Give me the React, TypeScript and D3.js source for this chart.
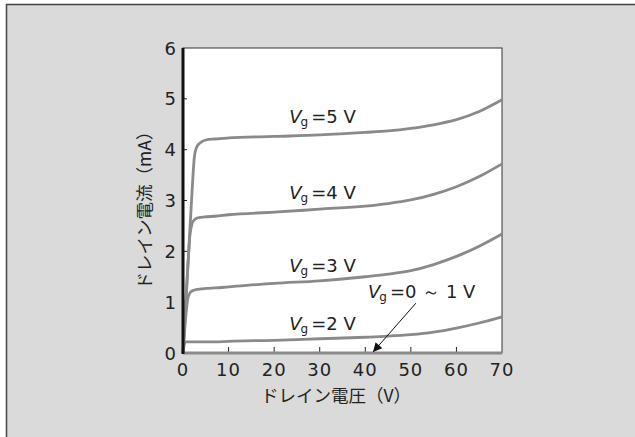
import React, { useEffect, useRef } from "react"
import * as d3 from "d3"

// drain voltage samples (V) and drain current (mA) per gate voltage
const vd = [0, 0.5, 1, 1.5, 2, 2.5, 3, 4, 5, 7, 10, 20, 30, 40, 45, 50, 55, 60, 65, 70]
const id5 = [0, 0.8, 1.6, 2.4, 3.2, 3.86, 4.05, 4.15, 4.19, 4.21, 4.23, 4.26, 4.29, 4.34, 4.37, 4.42, 4.49, 4.59, 4.75, 4.98]
const id4 = [0, 0.8, 1.6, 2.3, 2.55, 2.62, 2.65, 2.67, 2.68, 2.69, 2.72, 2.77, 2.83, 2.89, 2.94, 3.01, 3.12, 3.27, 3.47, 3.72]
const id3 = [0, 0.6, 1.04, 1.18, 1.22, 1.24, 1.25, 1.26, 1.27, 1.28, 1.3, 1.37, 1.42, 1.5, 1.55, 1.62, 1.74, 1.9, 2.1, 2.34]
const id2 = [0, 0.22, 0.22, 0.22, 0.22, 0.22, 0.22, 0.22, 0.22, 0.22, 0.23, 0.25, 0.28, 0.31, 0.33, 0.36, 0.41, 0.49, 0.59, 0.71]
const id01 = [0, 0, 0, 0, 0, 0, 0, 0, 0, 0, 0, 0, 0, 0, 0, 0, 0, 0, 0, 0]
const series = [id5, id4, id3, id2, id01]

const xTicks = [0, 10, 20, 30, 40, 50, 60, 70]
const yTicks = [0, 1, 2, 3, 4, 5, 6]

// label text and where it sits (data units)
const labels = [
  { vg: "5", x: 23.3, y: 4.53 },
  { vg: "4", x: 23.3, y: 3.03 },
  { vg: "3", x: 23.3, y: 1.59 },
  { vg: "2", x: 23.3, y: 0.46 },
  { vg: "0 ～ 1", x: 40.6, y: 1.08 },
]
const arrowFrom = [51.1, 0.98]
const arrowTo = [41.7, 0.0]

const JP = "'Noto Sans CJK JP', 'Noto Sans', sans-serif"
const NUM = "'DejaVu Sans', 'Noto Sans', sans-serif"

export default function App() {
  const ref = useRef<SVGSVGElement>(null)

  useEffect(() => {
    const svg = d3.select(ref.current)
    svg.selectAll("*").remove()

    const x = d3.scaleLinear().domain([0, 70]).range([183, 502])
    const y = d3.scaleLinear().domain([0, 6]).range([353, 48])

    // background panel
    svg.append("rect").attr("width", 635).attr("height", 437).attr("fill", "#ffffff")
    svg.append("rect")
      .attr("x", 6.5).attr("y", 4.5)
      .attr("width", 640).attr("height", 440)
      .attr("fill", "#dadada")
      .attr("stroke", "#444")
      .attr("stroke-width", 1.5)

    // plot area
    svg.append("rect")
      .attr("x", x(0)).attr("y", y(6))
      .attr("width", x(70) - x(0)).attr("height", y(0) - y(6))
      .attr("fill", "#fff")
      .attr("stroke", "#333")
      .attr("stroke-width", 1)

    // inward ticks
    svg.append("g")
      .selectAll("line")
      .data(xTicks.slice(1, -1))
      .enter()
      .append("line")
      .attr("x1", d => x(d)).attr("x2", d => x(d))
      .attr("y1", y(0)).attr("y2", y(0) - 6)
      .attr("stroke", "#222")
      .attr("stroke-width", 1)
    svg.append("g")
      .selectAll("line")
      .data(yTicks.slice(1, -1))
      .enter()
      .append("line")
      .attr("x1", x(0)).attr("x2", x(0) + 4)
      .attr("y1", d => y(d)).attr("y2", d => y(d))
      .attr("stroke", "#222")
      .attr("stroke-width", 1)

    // curves
    const line = d3.line<number>()
      .x((d, i) => x(vd[i]))
      .y(d => y(d))
      .curve(d3.curveMonotoneX)
    svg.append("g")
      .selectAll("path")
      .data(series)
      .enter()
      .append("path")
      .attr("d", d => line(d))
      .attr("fill", "none")
      .attr("stroke", "#8a8a8a")
      .attr("stroke-width", 2.8)
      .attr("stroke-linejoin", "round")

    // thick left axis
    svg.append("line")
      .attr("x1", x(0)).attr("x2", x(0))
      .attr("y1", y(6)).attr("y2", y(0) + 1)
      .attr("stroke", "#111")
      .attr("stroke-width", 3)

    // tick labels
    svg.append("g")
      .selectAll("text")
      .data(xTicks)
      .enter()
      .append("text")
      .attr("x", d => x(d))
      .attr("y", 376)
      .attr("text-anchor", "middle")
      .attr("font-family", NUM)
      .attr("font-size", 18)
      .attr("letter-spacing", 1)
      .attr("fill", "#222")
      .text(d => d)
    svg.append("g")
      .selectAll("text")
      .data(yTicks)
      .enter()
      .append("text")
      .attr("x", 176)
      .attr("y", d => y(d) + 6.5)
      .attr("text-anchor", "end")
      .attr("font-family", NUM)
      .attr("font-size", 18)
      .attr("fill", "#222")
      .text(d => d)

    // axis titles
    svg.append("text")
      .attr("x", 336).attr("y", 402)
      .attr("text-anchor", "middle")
      .attr("font-family", JP)
      .attr("font-size", 17.5)
      .attr("fill", "#222")
      .text("ドレイン電圧（V）")
    svg.append("text")
      .attr("transform", "translate(151,206) rotate(-90)")
      .attr("text-anchor", "middle")
      .attr("font-family", JP)
      .attr("font-size", 17.5)
      .attr("fill", "#222")
      .text("ドレイン電流（mA）")

    // Vg labels
    labels.forEach(l => {
      const t = svg.append("text")
        .attr("x", x(l.x)).attr("y", y(l.y))
        .attr("font-family", NUM)
        .attr("font-size", 18)
        .attr("fill", "#222")
      t.append("tspan").attr("font-style", "italic").text("V")
      t.append("tspan").attr("font-size", 12).attr("dx", -1).attr("dy", 3).text("g")
      t.append("tspan").attr("dx", 3).attr("dy", -3).text("=" + l.vg + " V")
    })

    // arrow
    svg.append("defs").append("marker")
      .attr("id", "arrowhead")
      .attr("viewBox", "0 0 10 10")
      .attr("refX", 10).attr("refY", 5)
      .attr("markerWidth", 12).attr("markerHeight", 9)
      .attr("markerUnits", "userSpaceOnUse")
      .attr("orient", "auto")
      .append("path")
      .attr("d", "M0,0 L10,5 L0,10 z")
      .attr("fill", "#111")
    svg.append("line")
      .attr("x1", x(arrowFrom[0])).attr("y1", y(arrowFrom[1]))
      .attr("x2", x(arrowTo[0])).attr("y2", y(arrowTo[1]) - 1)
      .attr("stroke", "#111")
      .attr("stroke-width", 1)
      .attr("marker-end", "url(#arrowhead)")
  }, [])

  return (
    <div style={{ position: "absolute", left: 0, top: 0 }}>
      <svg ref={ref} width={635} height={437} style={{ display: "block" }} />
    </div>
  )
}
